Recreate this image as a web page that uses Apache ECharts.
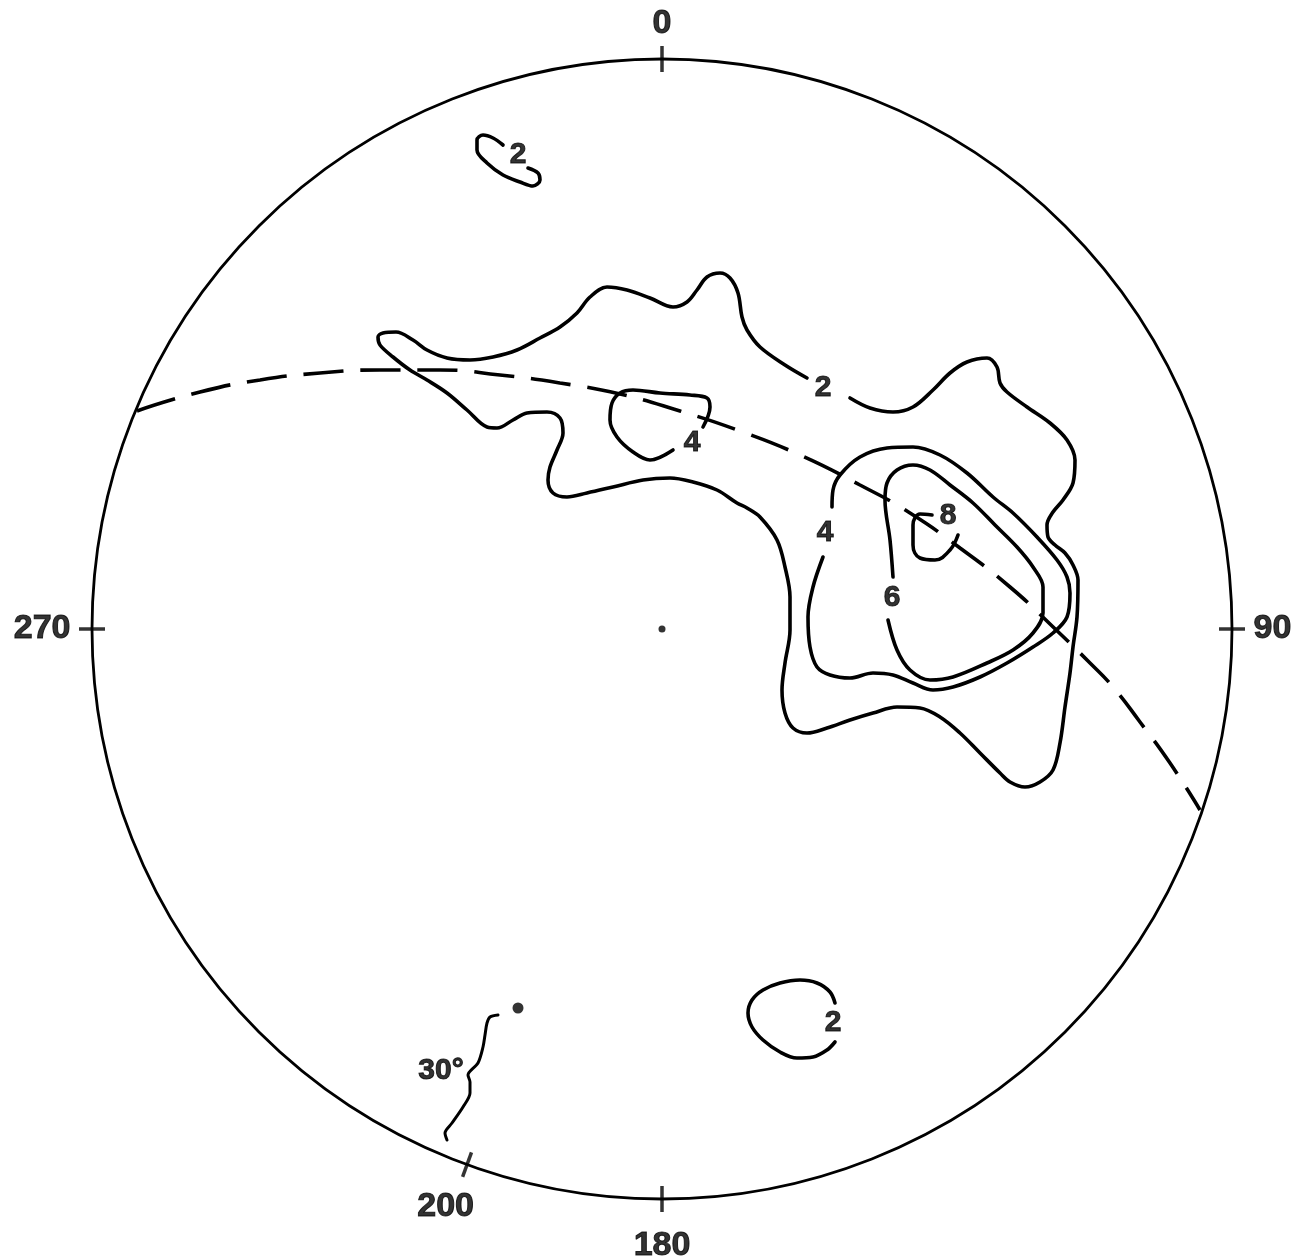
<!DOCTYPE html>
<html>
<head>
<meta charset="utf-8">
<script src="https://cdn.jsdelivr.net/npm/echarts@6/dist/echarts.min.js"></script>
<style>
html,body{margin:0;padding:0;background:#fff;}
#chart{width:1310px;height:1260px;}
</style>
</head>
<body>
<div id="chart"></div>
<script>
// Stereonet drawing units: net radius = 570, origin at centre, y to the north
const NET_R = 570;

// contour "2" (main body), open where the label sits
const contour2Main = [[188,231],[208,221],[231,217],[251,222],[271,239],[288,256],[305,267],[325,271],[335,262],[338,246],[345,237],[365,222],[388,206],[405,189],[413,169],[411,146],[401,129],[391,117],[385,104],[386,92],[393,84],[403,76],[411,64],[416,49],[415,12],[411,-18],[408,-44],[403,-78],[398,-114],[391,-141],[378,-153],[363,-158],[348,-153],[338,-144],[318,-124],[298,-104],[278,-88],[258,-79],[235,-78],[211,-84],[188,-91],[165,-99],[145,-104],[131,-99],[123,-84],[120,-61],[123,-34],[128,-1],[128,32],[123,62],[115,89],[98,112],[85,121],[75,126],[55,139],[31,147],[8,151],[-19,149],[-49,142],[-75,136],[-95,132],[-109,136],[-114,149],[-112,162],[-105,179],[-99,196],[-102,211],[-115,217],[-135,216],[-149,209],[-165,201],[-175,202],[-195,219],[-215,236],[-235,249],[-252,259],[-269,272],[-282,284],[-284,292],[-279,296],[-266,297],[-249,289],[-235,279],[-215,271],[-192,269],[-169,272],[-145,279],[-122,291],[-102,302],[-85,316],[-72,332],[-55,342],[-35,339],[-12,331],[11,322],[25,327],[35,339],[45,352],[58,356],[68,351],[76,336],[80,312],[85,299],[98,282],[123,264],[145,251]];
// small contour "2" in the north-west
const contour2NW = [[-134,461],[-124,456],[-122,449],[-129,443],[-142,447],[-159,454],[-175,466],[-185,479],[-185,489],[-179,494],[-169,491],[-159,484]];
// small contour "2" in the south
const contour2S = [[173,-374],[168,-363],[155,-354],[138,-351],[118,-354],[101,-361],[90,-371],[86,-384],[90,-398],[101,-411],[118,-423],[135,-429],[151,-428],[165,-421],[173,-413]];
// small contour "4" west
const contour4West = [[41,202],[48,222],[45,231],[28,234],[-2,236],[-29,239],[-42,236],[-50,226],[-52,209],[-45,192],[-29,177],[-12,169],[11,179]];
// contour "4" main
const contour4Main = [[170,122],[171,139],[178,154],[198,172],[225,181],[251,182],[278,174],[305,156],[331,132],[351,116],[375,92],[395,69],[405,52],[408,36],[405,12],[391,-4],[371,-18],[345,-34],[318,-48],[291,-58],[271,-61],[251,-54],[231,-46],[211,-44],[188,-49],[168,-46],[155,-38],[148,-18],[146,12],[151,42],[161,72]];
// contour "6"
const contour6 = [[226,9],[235,-21],[248,-41],[268,-51],[291,-48],[325,-34],[351,-21],[371,-4],[381,16],[381,42],[371,62],[355,82],[333,104],[311,126],[288,144],[268,159],[251,164],[235,159],[225,146],[223,129],[228,89],[231,52]];
// contour "8"
const contour8 = [[270,114],[258,115],[251,104],[251,84],[258,71],[273,69],[288,79],[296,94]];
// dashed great circle
const greatCircle = [[-525,218],[-462,237],[-402,249],[-342,256],[-282,259],[-222,259],[-162,254],[-102,246],[-42,235],[18,218],[78,198],[138,174],[198,144],[248,116],[298,81],[348,42],[388,5],[428,-34],[451,-58],[478,-93],[508,-134],[538,-181]];
// contour labels [x, y, text]
const contourLabels = [[161,241,'2'],[-144,474,'2'],[171,-394,'2'],[30,186,'4'],[163,96,'4'],[230,31,'6'],[286,113,'8']];
// azimuth ticks
const tickAzimuths = [0, 90, 180, 270, 200];
const tickLabels = ['0', '90', '180', '270', '200'];
// centre and pole
const centrePoint = [0, 0];
const polePoint = [-144, -379];
// 30° brace
const braceLine = [[-164,-386],[-172,-388],[-175,-394],[-177,-406],[-179,-418],[-184,-434],[-194,-446],[-192,-453],[-192,-464],[-199,-478],[-210,-494],[-217,-504],[-215,-511]];
const braceLabel = [-221, -442, '30°'];

const CX = 662, CY = 629;
const FONT = '"Liberation Sans", Arial, Helvetica, sans-serif';
const TEXT = { color: '#000', fontWeight: 'bold', fontFamily: FONT, textBorderColor: '#000', textBorderWidth: 1 };

function lineSeries(data, extra) {
  return Object.assign({
    type: 'line', xAxisIndex: 0, yAxisIndex: 0, data: data,
    symbol: 'none', smooth: 0.35, silent: true,
    lineStyle: { color: '#000', width: 3.6, cap: 'round', join: 'round' }
  }, extra || {});
}

function tickItem(az) {
  const horiz = (az % 180) === 90;
  return {
    value: [NET_R, az],
    symbolSize: horiz ? [26, 3.5] : [3.5, 26],
    symbolRotate: horiz ? 0 : -az
  };
}
const labelStyle = {
  0:   { position: 'top', distance: 5 },
  90:  { position: 'right', distance: 8 },
  180: { position: 'bottom', distance: 16 },
  270: { position: 'left', distance: 8 },
  200: { position: 'bottom', distance: 12, offset: [-17, 0] }
};

const series = [
  lineSeries(contour2Main),
  lineSeries(contour2NW),
  lineSeries(contour2S),
  lineSeries(contour4West),
  lineSeries(contour4Main),
  lineSeries(contour6),
  lineSeries(contour8, { smooth: 0.4 }),
  lineSeries(greatCircle, { smooth: 0.5, lineStyle: { color: '#000', width: 3.6, type: [40, 17], cap: 'butt' } }),
  lineSeries(braceLine, { smooth: 0.3, lineStyle: { color: '#000', width: 3, cap: 'round' } }),
  {
    type: 'scatter', xAxisIndex: 0, yAxisIndex: 0, silent: true,
    data: contourLabels.map(d => ({ value: [d[0], d[1]], name: d[2] })).concat([{ value: [braceLabel[0], braceLabel[1]], name: braceLabel[2] }]),
    symbolSize: 1, itemStyle: { color: 'rgba(0,0,0,0)' },
    label: Object.assign({ show: true, position: 'inside', formatter: p => p.name, fontSize: 30 }, TEXT)
  },
  {
    type: 'scatter', xAxisIndex: 0, yAxisIndex: 0, silent: true,
    data: [{ value: centrePoint, symbolSize: 7 }, { value: polePoint, symbolSize: 11 }],
    itemStyle: { color: '#000' }
  },
  {
    type: 'scatter', coordinateSystem: 'polar', silent: true, clip: false,
    data: tickAzimuths.map(tickItem),
    symbol: 'rect', itemStyle: { color: '#000' }
  },
  {
    type: 'scatter', coordinateSystem: 'polar', silent: true, clip: false,
    data: tickAzimuths.map((az, i) => ({
      value: [NET_R + 13, az], name: tickLabels[i],
      label: Object.assign({ show: true, formatter: tickLabels[i], fontSize: 34 }, TEXT, labelStyle[az])
    })),
    symbolSize: 1, itemStyle: { color: 'rgba(0,0,0,0)' }
  }
];

const chart = echarts.init(document.getElementById('chart'), null, { renderer: 'canvas' });
chart.setOption({
  animation: false,
  backgroundColor: '#fff',
  grid: { left: CX - NET_R, top: CY - NET_R, width: 2 * NET_R, height: 2 * NET_R },
  xAxis: { type: 'value', min: -NET_R, max: NET_R, show: false, splitLine: { show: false } },
  yAxis: { type: 'value', min: -NET_R, max: NET_R, show: false, splitLine: { show: false } },
  polar: { center: [CX, CY], radius: NET_R },
  angleAxis: {
    type: 'value', min: 0, max: 360, startAngle: 90, clockwise: true,
    axisLine: { show: true, lineStyle: { color: '#000', width: 2.8 } },
    axisTick: { show: false }, axisLabel: { show: false }, splitLine: { show: false }
  },
  radiusAxis: {
    type: 'value', min: 0, max: NET_R,
    axisLine: { show: false }, axisTick: { show: false }, axisLabel: { show: false }, splitLine: { show: false }
  },
  series: series
});
</script>
</body>
</html>
